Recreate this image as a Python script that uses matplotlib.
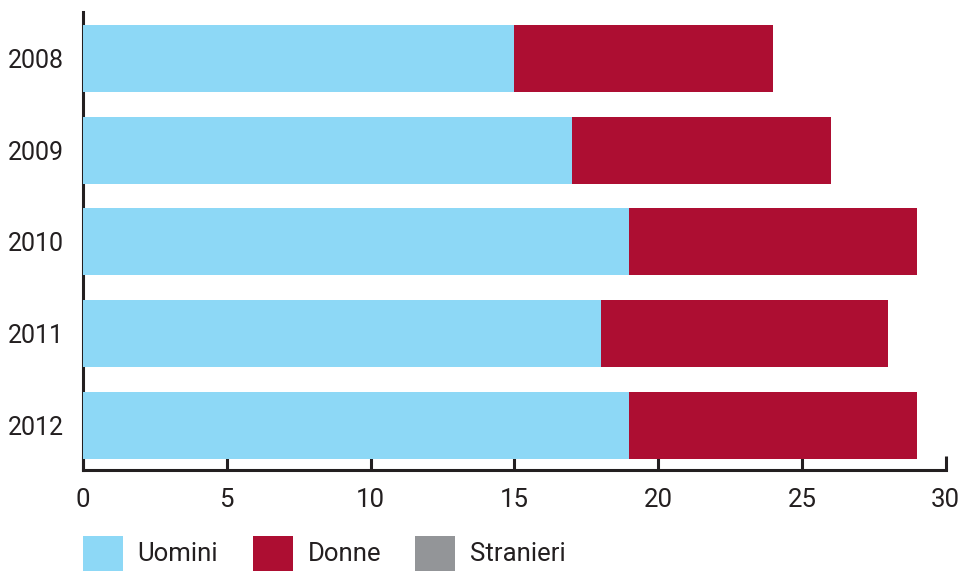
import matplotlib.pyplot as plt
from matplotlib.patches import Rectangle

years = ["2008", "2009", "2010", "2011", "2012"]
uomini = [15, 17, 19, 18, 19]
donne = [9, 9, 10, 10, 10]
stranieri = [0, 0, 0, 0, 0]
series = ["Uomini", "Donne", "Stranieri"]
colors = ["#8dd8f6", "#ad0e32", "#939598"]

plt.rcParams['font.family'] = ['Roboto', 'DejaVu Sans']
text_color = "#231f20"

fig = plt.figure(figsize=(9.65, 5.71), dpi=100)
ax = fig.add_axes([0.086, 0.177, 0.894, 0.802])

pos = list(range(len(years)))
left = [0] * len(years)
for vals, col in zip([uomini, donne, stranieri], colors):
    ax.barh(pos, vals, left=left, height=0.73, color=col, zorder=3)
    left = [a + b for a, b in zip(left, vals)]

ax.set_xlim(0, 30)
ax.set_ylim(4.485, -0.507)
ax.set_xticks(range(0, 31, 5))
ax.set_yticks(pos)
ax.set_yticklabels(years)

for s in ["top", "right"]:
    ax.spines[s].set_visible(False)
for s in ["left", "bottom"]:
    ax.spines[s].set_linewidth(2.2)
    ax.spines[s].set_color(text_color)
    ax.spines[s].set_zorder(1)

ax.tick_params(axis='x', direction='in', length=10, width=2.2, color=text_color,
               labelsize=18.5, labelcolor=text_color, pad=13)
ax.tick_params(axis='y', length=0, labelsize=18, labelcolor=text_color, pad=14)

# legend boxes along the bottom edge
legend_x = [83, 253, 415]
text_x = [137, 308, 470]
W, H = 965, 571
for lx, tx, name, col in zip(legend_x, text_x, series, colors):
    fig.add_artist(Rectangle((lx / W, 0), 40 / W, 35 / H, transform=fig.transFigure,
                             color=col, lw=0))
    fig.text(tx / W, (H - 554) / H, name, fontsize=18.5, color=text_color,
             va='center', ha='left')

fig.savefig("out.png", dpi=100)
